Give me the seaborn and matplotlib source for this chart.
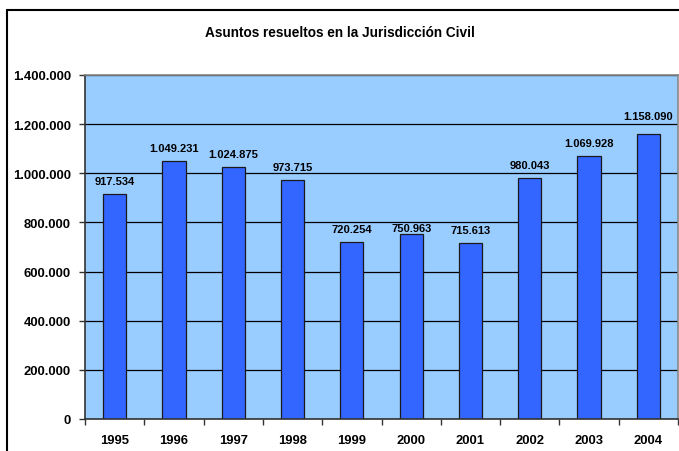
import matplotlib
matplotlib.use("Agg")
import matplotlib.pyplot as plt
import seaborn as sns
import pandas as pd
from matplotlib.lines import Line2D
from matplotlib.ticker import FuncFormatter, FixedLocator

# ---------------------------------------------------------------------------
# data
# ---------------------------------------------------------------------------
years = ["1995", "1996", "1997", "1998", "1999",
         "2000", "2001", "2002", "2003", "2004"]
resueltos = [917534, 1049231, 1024875, 973715, 720254,
             750963, 715613, 980043, 1069928, 1158090]
title = "Asuntos resueltos en la Jurisdicción Civil"

df = pd.DataFrame({"Año": years, "Resueltos": resueltos})

sns.set_theme(style="white")
plt.rcParams["font.family"] = ["Liberation Sans", "DejaVu Sans"]
plt.rcParams["font.weight"] = "bold"


def es_miles(v, pos=None):
    return f"{int(round(v)):,}".replace(",", ".")


fig = plt.figure(figsize=(6.79, 4.52), dpi=100)
ax = fig.add_axes([85 / 679, 1 - 420 / 452, 593 / 679, 344 / 452])
ax.set_facecolor("#99CCFF")

sns.barplot(data=df, x="Año", y="Resueltos", ax=ax, color="#3366FF",
            width=0.39, edgecolor="#1a1a1a", linewidth=0.9, saturation=1)

ax.set_xlim(-0.5, len(years) - 0.5)
ax.set_ylim(0, 1400000)
grid_y = list(range(0, 1400001, 200000))
ax.set_yticks(grid_y)
ax.yaxis.set_major_formatter(FuncFormatter(es_miles))
ax.set_xlabel("")
ax.set_ylabel("")

# horizontal gridlines, behind the bars
ax.set_axisbelow(True)
ax.yaxis.grid(True, color="black", linewidth=0.9)
ax.xaxis.grid(False)

# Excel-style ticks: marks between the categories
ax.xaxis.set_minor_locator(FixedLocator([i - 0.5 for i in range(len(years) + 1)]))
ax.tick_params(axis="x", which="major", length=0, pad=11, labelsize=9.4)
ax.tick_params(axis="x", which="minor", length=4, width=1, color="#333333",
               direction="out", bottom=True)
ax.tick_params(axis="y", length=4, width=1, color="#333333", direction="out",
               left=True, pad=6, labelsize=9.4)
for lab in ax.get_xticklabels() + ax.get_yticklabels():
    lab.set_fontweight("bold")
    lab.set_color("black")

for side in ["left", "bottom"]:
    ax.spines[side].set_color("#333333")
    ax.spines[side].set_linewidth(1.2)
for side in ["top", "right"]:
    ax.spines[side].set_color("#888888")
    ax.spines[side].set_linewidth(1.2)

# value labels above bars; if a label would sit on a gridline, tuck it
# just under the line when it still clears the bar, otherwise lift it over
px = 1400000 / 344          # data units per pixel on the y axis
label_h = 10 * px
for i, v in enumerate(resueltos):
    bottom = v + 8 * px
    for g in grid_y:
        if bottom - px <= g <= bottom + label_h + px:
            below = g - px - label_h
            bottom = below if below >= v else g + 3 * px
    ax.text(i, bottom, es_miles(v), ha="center", va="bottom", fontsize=8,
            fontweight="bold", color="black")

fig.text(0.5, 1 - 33 / 452, title, ha="center", va="center",
         fontsize=9.8, fontweight="bold", color="black")

# outer chart frame (only left and top fall inside the image)
fx = 7 / 679
fy = 1 - 11 / 452
fig.add_artist(Line2D([fx, fx], [0, fy], transform=fig.transFigure,
                      color="black", linewidth=1.5))
fig.add_artist(Line2D([fx, 1], [fy, fy], transform=fig.transFigure,
                      color="black", linewidth=1.5))

fig.savefig("out.png", dpi=100)
